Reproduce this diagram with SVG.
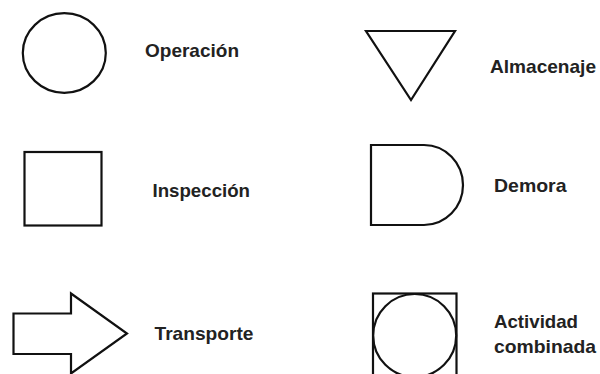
<svg xmlns="http://www.w3.org/2000/svg" width="600" height="374" viewBox="0 0 600 374">
<style>
.s{fill:#fff;stroke:#111;stroke-width:2.2;stroke-linejoin:miter}
.t{font-family:"Liberation Sans",Arial,sans-serif;font-weight:bold;font-size:19px;fill:#222}
</style>
<rect width="600" height="374" fill="#fff"/>
<g id="operacion">
<ellipse class="s" cx="64.3" cy="53" rx="41.5" ry="39.8"/>
<text class="t" x="145" y="57" textLength="94" lengthAdjust="spacingAndGlyphs">Operación</text>
</g>
<g id="almacenaje">
<polygon class="s" points="366,31 455,31 411,100"/>
<text class="t" x="490" y="72.5" textLength="106" lengthAdjust="spacingAndGlyphs">Almacenaje</text>
</g>
<g id="inspeccion">
<rect class="s" x="24.5" y="152" width="77" height="73.5"/>
<text class="t" x="152.5" y="196.5" textLength="97.5" lengthAdjust="spacingAndGlyphs">Inspección</text>
</g>
<g id="demora">
<path class="s" d="M371,145 H424 A39,40 0 0 1 424,225 H371 Z"/>
<text class="t" x="494" y="191.5" textLength="72.5" lengthAdjust="spacingAndGlyphs">Demora</text>
</g>
<g id="transporte">
<polygon class="s" points="13.5,313.5 71,313.5 71,293.5 127,333.5 71,373.5 71,354 13.5,354"/>
<text class="t" x="154.5" y="340" textLength="99" lengthAdjust="spacingAndGlyphs">Transporte</text>
</g>
<g id="actividad-combinada">
<rect class="s" x="373" y="293.5" width="83.5" height="84"/>
<circle class="s" cx="414.7" cy="335.5" r="41.5"/>
<text class="t" x="494" y="327.5" textLength="84" lengthAdjust="spacingAndGlyphs">Actividad</text>
<text class="t" x="494" y="353" textLength="102" lengthAdjust="spacingAndGlyphs">combinada</text>
</g>
<g id="connectors"/>
</svg>
